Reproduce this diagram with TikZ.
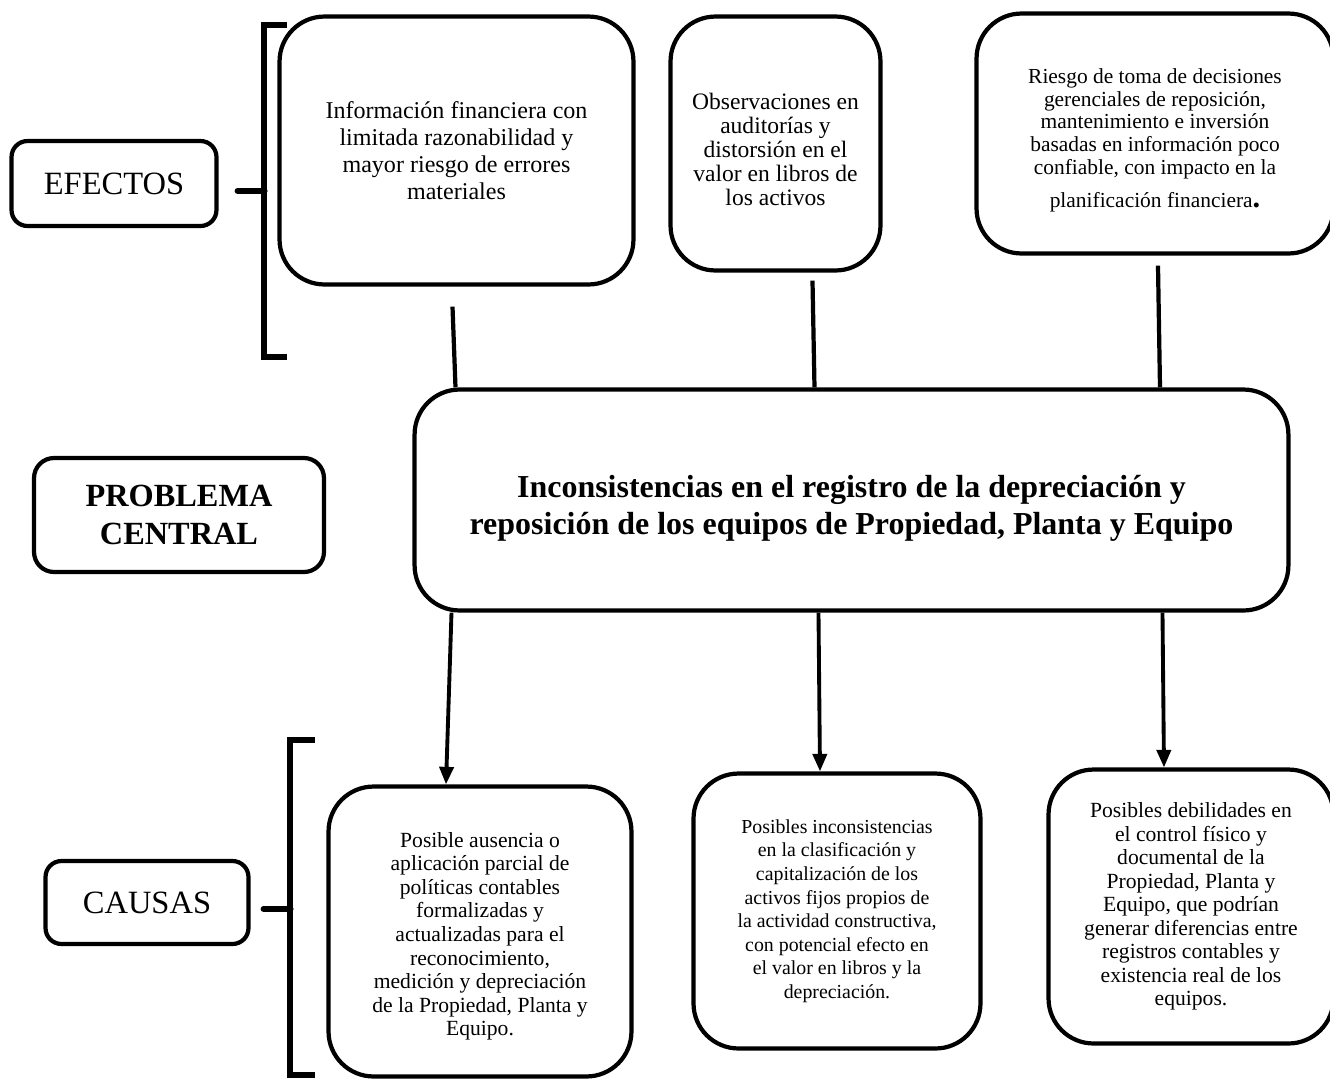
\documentclass[tikz,border=0pt]{standalone}
\usepackage{fontspec}
\setmainfont{Liberation Serif}
\usetikzlibrary{arrows.meta,calc}

\tikzset{
	caja/.style={draw, line width=2.4pt, rounded corners=0.9cm, align=center, inner sep=0pt},
	etiqueta/.style={draw, line width=2.4pt, rounded corners=0.32cm, align=center, inner sep=0pt},
	enlace/.style={line width=2.4pt},
	flecha/.style={line width=2.2pt, -{Triangle[length=10pt,width=8pt]}},
	llave/.style={line width=3.4pt}
}

\begin{document}
\begin{tikzpicture}[x=0.02cm, y=-0.02cm]
	\useasboundingbox (0,0) rectangle (1330,1080);

	% etiquetas de la izquierda
	\node[etiqueta, minimum width=4.1cm, minimum height=1.7cm, font=\fontsize{18.5}{22}\selectfont] (efectos) at (114,183.5) {EFECTOS};
	\node[etiqueta, rounded corners=0.4cm, minimum width=5.8cm, minimum height=2.28cm, font=\fontsize{18.4}{21.5}\selectfont\bfseries] (problema) at (179,515) {PROBLEMA\\CENTRAL};
	\node[etiqueta, minimum width=4.06cm, minimum height=1.66cm, font=\fontsize{18.5}{22}\selectfont] (causas) at (147,902.5) {CAUSAS};

	% efectos
	\node[caja, minimum width=7.08cm, minimum height=5.36cm, font=\fontsize{13.7}{15.3}\selectfont] (e1) at (456.5,150.5) {Información financiera con\\limitada razonabilidad y\\mayor riesgo de errores\\materiales};
	\node[caja, minimum width=4.2cm, minimum height=5.08cm, font=\fontsize{13.4}{13.6}\selectfont] (e2) at (775.5,143.5) {\rule{0pt}{16pt}Observaciones en\\auditorías y\\distorsión en el\\valor en libros de\\los activos};
	\node[caja, minimum width=7.14cm, minimum height=4.8cm, font=\fontsize{12.2}{12.9}\selectfont] (e3) at (1155,133.5) {\rule{0pt}{16pt}Riesgo de toma de decisiones\\gerenciales de reposición,\\mantenimiento e inversión\\basadas en información poco\\confiable, con impacto en la\\[6pt]planificación financiera{\LARGE\bfseries .}};

	% problema central
	\node[caja, minimum width=17.48cm, minimum height=4.42cm, font=\fontsize{18.2}{21.5}\selectfont\bfseries] (cen) at (851.5,500) {\rule{0pt}{22pt}Inconsistencias en el registro de la depreciación y\\reposición de los equipos de Propiedad, Planta y Equipo};

	% causas
	\node[caja, minimum width=6.06cm, minimum height=5.8cm, font=\fontsize{12.3}{13.4}\selectfont] (b1) at (480,931.5) {\rule{0pt}{14pt}Posible ausencia o\\aplicación parcial de\\políticas contables\\formalizadas y\\actualizadas para el\\reconocimiento,\\medición y depreciación\\de la Propiedad,  Planta y\\Equipo.};
	\node[caja, minimum width=5.74cm, minimum height=5.5cm, font=\fontsize{11.3}{13.4}\selectfont] (b2) at (837,911) {Posibles inconsistencias\\en la clasificación y\\capitalización de los\\activos fijos propios de\\la actividad constructiva,\\con potencial efecto en\\el valor en libros y la\\depreciación.};
	\node[caja, minimum width=5.7cm, minimum height=5.48cm, font=\fontsize{12.3}{13.4}\selectfont] (b3) at (1191,906.5) {Posibles debilidades en\\el control físico y\\documental de la\\Propiedad, Planta y\\Equipo, que podrían\\generar diferencias  entre\\registros contables y\\existencia real de los\\equipos.};

	% llaves
	\draw[llave] (287,25) -- (264,25) -- (264,357) -- (287,357);
	\draw[llave, line cap=round] ($(efectos.east)+(19,7.5)$) -- ++(27,0);
	\draw[llave] (315,740) -- (290,740) -- (290,1075) -- (315,1075);
	\draw[llave, line cap=round] ($(causas.east)+(13,6.5)$) -- ++(27,0);

	% efectos hacia el problema
	\draw[enlace] ($(e1.south)+(-4,20)$) -- ($(e1.south |- cen.north)+(-1,0)$);
	\draw[enlace] ($(e2.south)+(37,8)$) -- ($(e2.south |- cen.north)+(39,0)$);
	\draw[enlace] ($(e3.south)+(3,10)$) -- ($(e3.south |- cen.north)+(5,0)$);

	% problema hacia las causas
	\draw[flecha] ($(cen.south)+(-400,0)$) -- ($(b1.north)+(-34,0)$);
	\draw[flecha] ($(cen.south)+(-33,0)$) -- ($(b2.north)+(-17,0)$);
	\draw[flecha] ($(cen.south)+(311,0)$) -- ($(b3.north)+(-27,0)$);

\end{tikzpicture}
\end{document}
